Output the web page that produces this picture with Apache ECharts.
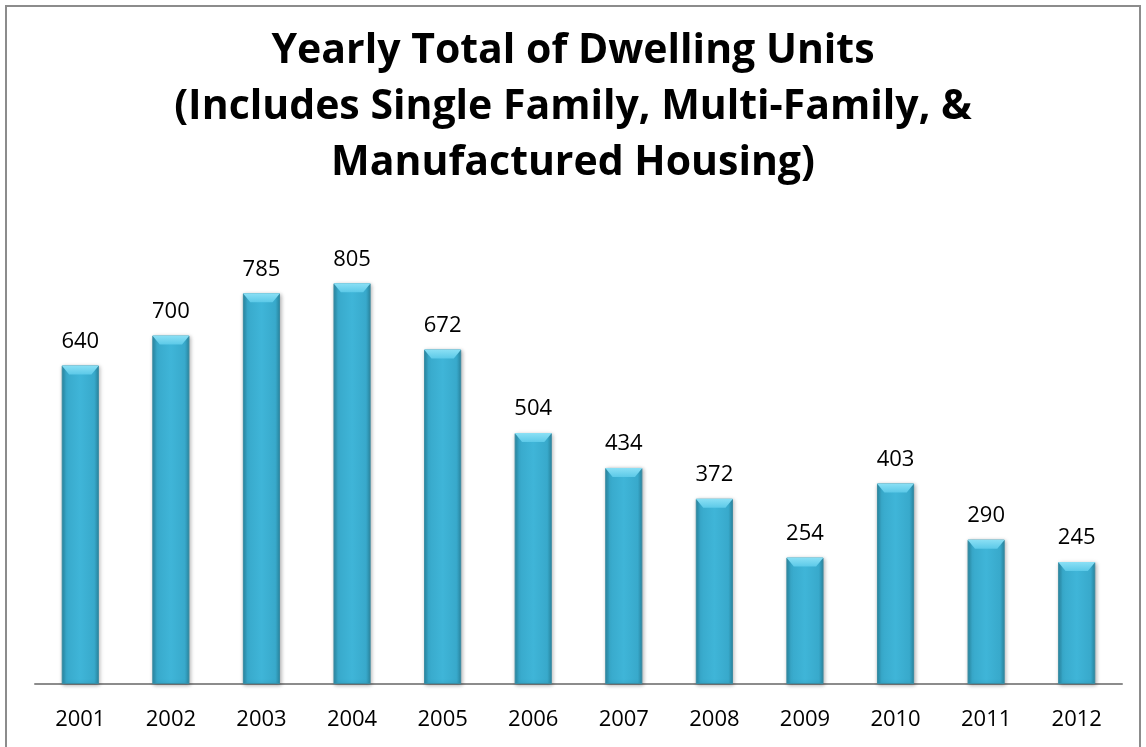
<!DOCTYPE html>
<html><head><meta charset="utf-8">
<script src="https://cdn.jsdelivr.net/npm/echarts@6/dist/echarts.min.js"></script>
<style>html,body{margin:0;padding:0;background:#fff}#c{width:1146px;height:747px}</style>
</head><body><div id="c"></div>
<script>
const years = ['2001','2002','2003','2004','2005','2006','2007','2008','2009','2010','2011','2012'];
const units = [640,700,785,805,672,504,434,372,254,403,290,245];
const titleLines = ['Yearly Total of Dwelling Units','(Includes Single Family, Multi-Family, &','Manufactured Housing)'];

const chart = echarts.init(document.getElementById('c'));
chart.setOption({
  animation:false,
  title:{text:titleLines.join('\n'),left:'center',top:18,
    textStyle:{fontFamily:'Open Sans',fontWeight:'bold',fontSize:41,lineHeight:56,color:'#000'}},
  graphic:[{type:'rect',shape:{x:6,y:6,width:1134,height:760},style:{fill:'none',stroke:'#8c8c8c',lineWidth:2},z:-1}],
  grid:{left:35,right:24,top:236,bottom:63},
  xAxis:{type:'category',data:years,
    axisLine:{lineStyle:{color:'#8c8c8c',width:2}},axisTick:{show:false},
    axisLabel:{color:'#000',fontFamily:'Open Sans',fontSize:22,margin:25}},
  yAxis:{type:'value',min:0,max:900,show:false,splitLine:{show:false}},
  series:[{type:'bar',data:units,barCategoryGap:'59%',z:2,
    itemStyle:{color:{type:'linear',x:0,y:0,x2:1,y2:0,colorStops:[
      {offset:0,color:'#2a8aa5'},{offset:0.12,color:'#38a9cb'},{offset:0.5,color:'#3fb5d8'},{offset:0.88,color:'#38a9cb'},{offset:1,color:'#2a8aa5'}]},
      borderColor:'#3a8ca3',borderWidth:1,
      shadowColor:'rgba(0,0,0,0.3)',shadowBlur:4,shadowOffsetX:1,shadowOffsetY:1},
    label:{show:true,position:'top',distance:13,color:'#000',fontFamily:'Open Sans',fontSize:22}
  },{type:'pictorialBar',data:units,barGap:'-100%',barCategoryGap:'59%',z:3,
    symbol:'path://M0,0 L20,0 L16,3 L4,3 Z',symbolSize:['100%',9],symbolPosition:'end',symbolOffset:[0,0],
    itemStyle:{color:{type:'linear',x:0,y:0,x2:0,y2:1,colorStops:[{offset:0,color:'#8be0f5'},{offset:1,color:'#5cc9e8'}]}},
    silent:true
  }]
});
</script></body></html>
